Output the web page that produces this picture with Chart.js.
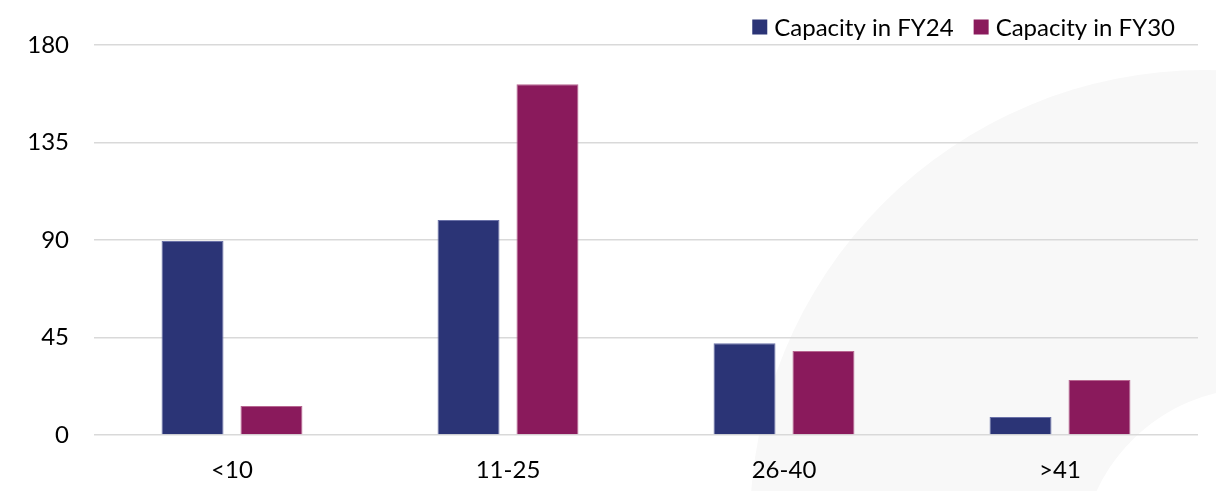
<!DOCTYPE html>
<html>
<head>
<meta charset="utf-8">
<script src="https://cdn.jsdelivr.net/npm/chart.js@4"></script>
<style>
  html, body { margin: 0; padding: 0; background: #ffffff; }
  #wrap { width: 1216px; height: 491px; position: relative; }
</style>
</head>
<body>
<div id="wrap"><canvas id="chart" width="1216" height="491"></canvas></div>
<script>
// Capacity by size band
const categories = ['<10', '11-25', '26-40', '>41'];
const capacityFY24 = [89.5, 99.2, 42.3, 8.3];
const capacityFY30 = [13.4, 161.9, 38.8, 25.4];
const yTicks = [0, 45, 90, 135, 180];

const FONT = 'Lato, "Open Sans", sans-serif';
const FONT_SIZE = 24;

// Soft grey ring decoration behind the plot
const backdrop = {
  id: 'backdrop',
  beforeDraw(chart) {
    const ctx = chart.ctx;
    ctx.save();
    ctx.fillStyle = '#ffffff';
    ctx.fillRect(0, 0, chart.width, chart.height);
    ctx.beginPath();
    ctx.arc(1205, 525, 455, 0, Math.PI * 2);
    ctx.arc(1258, 566, 178, 0, Math.PI * 2, true);
    ctx.fillStyle = '#f8f8f8';
    ctx.fill('evenodd');
    ctx.restore();
  }
};

// Compact legend in the top-right corner, built from the datasets
const cornerLegend = {
  id: 'cornerLegend',
  afterDraw(chart) {
    const ctx = chart.ctx;
    const box = 15, gapText = 7, gapItem = 20;
    ctx.save();
    ctx.font = FONT_SIZE + 'px ' + FONT;
    ctx.textBaseline = 'middle';
    const items = chart.data.datasets.map(ds => ({
      text: ds.label, color: ds.backgroundColor, w: ctx.measureText(ds.label).width
    }));
    const total = items.reduce((s, it) => s + box + gapText + it.w, 0) + gapItem * (items.length - 1);
    let x = chart.chartArea.right - 23 - total;
    const cy = 27;
    items.forEach(it => {
      ctx.fillStyle = it.color;
      ctx.fillRect(x, cy - box / 2, box, box);
      x += box + gapText;
      ctx.fillStyle = '#000000';
      ctx.fillText(it.text, x, cy + 1);
      x += it.w + gapItem;
    });
    ctx.restore();
  }
};

new Chart(document.getElementById('chart'), {
  type: 'bar',
  data: {
    labels: categories,
    datasets: [
      {
        label: 'Capacity in FY24',
        data: capacityFY24,
        backgroundColor: '#2b3476',
        borderColor: '#6a71a8',
        borderWidth: 1,
        categoryPercentage: 0.572,
        barPercentage: 0.785
      },
      {
        label: 'Capacity in FY30',
        data: capacityFY30,
        backgroundColor: '#8a1a5c',
        borderColor: '#b76690',
        borderWidth: 1,
        categoryPercentage: 0.572,
        barPercentage: 0.785
      }
    ]
  },
  options: {
    responsive: false,
    animation: false,
    devicePixelRatio: 1,
    layout: { padding: { left: 0, right: 18, top: 45, bottom: 0 } },
    plugins: {
      legend: { display: false },
      tooltip: { enabled: false }
    },
    scales: {
      x: {
        grid: { display: false },
        border: { display: false },
        ticks: {
          color: '#000000',
          font: { family: FONT, size: FONT_SIZE },
          padding: 13
        },
        afterFit(scale) { scale.height = 56; }
      },
      y: {
        min: 0,
        max: 180,
        afterBuildTicks(scale) { scale.ticks = yTicks.map(v => ({ value: v })); },
        grid: { color: '#d9d9d9', lineWidth: 1.5, drawTicks: false },
        border: { display: false },
        ticks: {
          color: '#000000',
          font: { family: FONT, size: FONT_SIZE },
          padding: 25
        },
        afterFit(scale) { scale.width = 94; }
      }
    }
  },
  plugins: [backdrop, cornerLegend]
});
</script>
</body>
</html>
